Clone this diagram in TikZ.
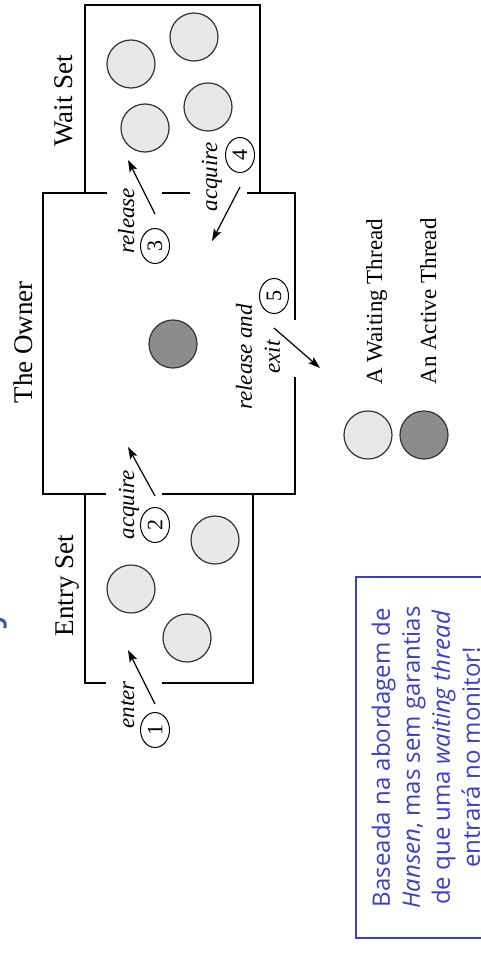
\documentclass[tikz,border=0pt]{standalone}
\usepackage{fontspec}
\setmainfont{Liberation Serif}
\newfontfamily\notefont{Open Sans}
\usetikzlibrary{arrows.meta,shapes.geometric}
\definecolor{notecolor}{RGB}{60,60,205}
\definecolor{titlecolor}{RGB}{45,90,170}

\begin{document}
\begin{tikzpicture}[x=1pt,y=-1pt,
	 wall/.style={line width=2pt,line join=miter},
	 thread/.style={circle,draw=black!80,line width=1.2pt,minimum size=48pt,inner sep=0pt},
	 waiting/.style={thread,fill=black!9},
	 active/.style={thread,fill=black!45},
	 flow/.style={-{Stealth[length=12pt,width=8pt,inset=2.5pt]},line width=1.2pt},
	 stepno/.style={ellipse,draw,line width=1pt,minimum width=35pt,minimum height=29pt,inner sep=0pt,rotate=90,font=\fontsize{22}{22}\selectfont},
	 caption/.style={rotate=90,anchor=base west,font=\fontsize{27}{27}\selectfont},
	 action/.style={rotate=90,anchor=base west,font=\fontsize{23}{28}\selectfont\itshape},
	 key/.style={rotate=90,anchor=base west,font=\fontsize{23}{23}\selectfont}]

	 \useasboundingbox (0,0) rectangle (480,971);

	 % slide title, runs off the left edge
	 \node[rotate=90,anchor=base west,inner sep=0pt,text=titlecolor,font=\notefont\fontsize{41}{41}\selectfont] (title) at (-1,903) {Monitores em Java};

	 % walls of the monitor
	 \draw[wall] (106,494) -- (43,494) -- (43,193) -- (107,193);
	 \draw[wall] (85,193) -- (85,5) -- (260,5) -- (260,193);
	 \draw[wall] (162,193) -- (190,193);
	 \draw[wall] (247,193) -- (295,193) -- (295,320);
	 \draw[wall] (295,377) -- (295,494) -- (162,494);
	 \draw[wall] (85,494) -- (85,683) -- (106,683);
	 \draw[wall] (162,683) -- (253,683) -- (253,494);

	 % threads
	 \node[waiting] (w1) at (131,64) {};
	 \node[waiting] (w2) at (194,37) {};
	 \node[waiting] (w3) at (145,128) {};
	 \node[waiting] (w4) at (208,107) {};
	 \node[active] (owner) at (173,344) {};
	 \node[waiting] (e1) at (215,540) {};
	 \node[waiting] (e2) at (131,589) {};
	 \node[waiting] (e3) at (187,638) {};

	 \node[caption] (waitset) at (72,150) {Wait Set};
	 \node[caption] (theowner) at (32,407) {The Owner};
	 \node[caption] (entryset) at (73,640) {Entry Set};

	 % numbered transitions
	 \node[stepno] (n1) at (155,730) {1};
	 \node[stepno] (n2) at (155,525) {2};
	 \node[stepno] (n3) at (155,246) {3};
	 \node[stepno] (n4) at (240,155) {4};
	 \node[stepno] (n5) at (274,296) {5};

	 \node[action] (enter) at (134,732) {enter};
	 \node[action] (acq2) at (134,543) {acquire};
	 \node[action] (rel3) at (134,257) {release};
	 \node[action] (acq4) at (217,215) {acquire};
	 \node[action,anchor=center,align=center] (rel5) at (258,357) {release and\\exit};

	 \coordinate (h1) at (128,650);
	 \coordinate (h2) at (128,447);
	 \coordinate (h3) at (128,160);
	 \coordinate (h4) at (212,241);
	 \coordinate (h5) at (320,368);

	 \draw[flow] ([yshift=8pt]n1.east) -- (h1);
	 \draw[flow] ([yshift=11pt]n2.east) -- (h2);
	 \draw[flow] ([yshift=14pt]n3.east) -- (h3);
	 \draw[flow] ([yshift=-14pt]n4.west) -- (h4);
	 \draw[flow] ([yshift=-14pt]n5.west) -- (h5);

	 % legend
	 \node[waiting] (keywait) at (368,435) {};
	 \node[active] (keyactive) at (424,435) {};
	 \node[key] (keywaittext) at (382,388) {A Waiting Thread};
	 \node[key] (keyactivetext) at (436,388) {An Active Thread};

	 % note box
	 \node[draw=notecolor,line width=1.2pt,text=notecolor,rotate=90,minimum width=361pt,minimum height=140pt,align=center,
	 	 font=\notefont\fontsize{24}{30}\selectfont] (note) at (426,757.5)
	 	 {Baseada na abordagem de\\ \textit{Hansen}, mas sem garantias\\ de que uma \textit{waiting thread}\\ entrará no monitor!};

\end{tikzpicture}
\end{document}
